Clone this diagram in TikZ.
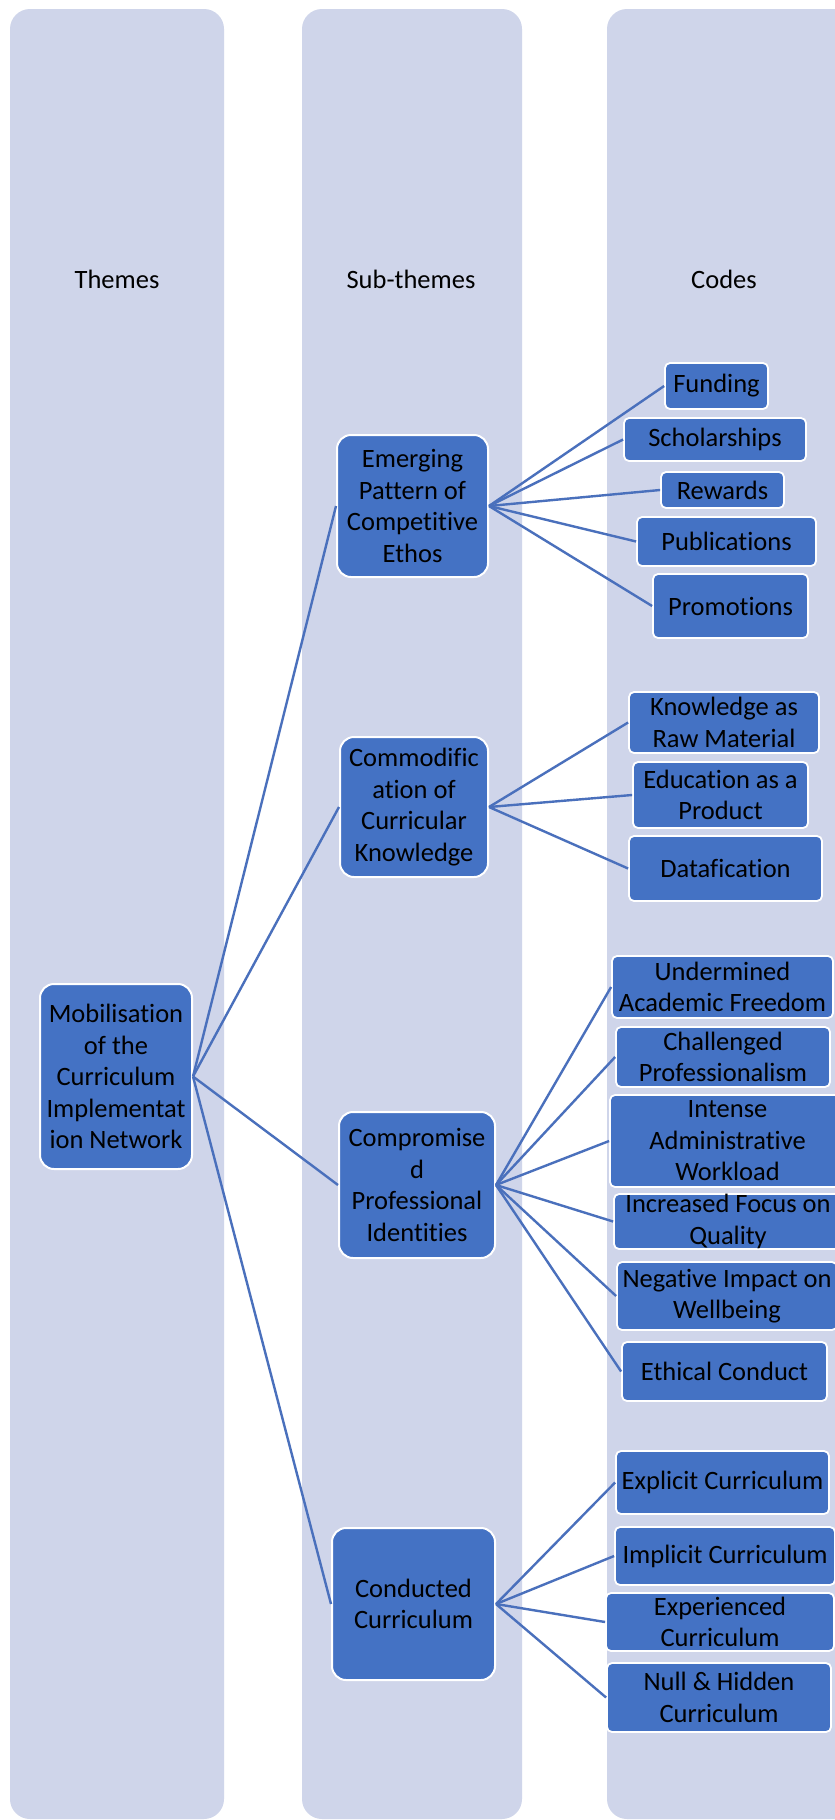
\documentclass[tikz,border=0pt]{standalone}
\usepackage{fontspec}
\setmainfont{Carlito}[Ligatures=NoCommon]
\definecolor{colbg}{HTML}{CFD5EA}
\definecolor{boxblue}{HTML}{4472C4}
\definecolor{linkblue}{HTML}{4A70BC}
\newcommand\boxfont{\fontsize{26.5}{31.5}\selectfont}
\tikzset{
  column/.style={fill=colbg, rounded corners=20pt},
  header/.style={font=\boxfont, text=black},
  txt/.style={align=center, font=\boxfont, text=black, inner sep=0pt},
  themebox/.style={draw=white, line width=2pt, fill=boxblue, rounded corners=14pt, inner sep=0pt},
  codebox/.style={draw=white, line width=1.8pt, fill=boxblue, rounded corners=5pt, inner sep=0pt},
  link/.style={draw=linkblue, line width=2.4pt},
}
\begin{document}
\begin{tikzpicture}[x=1pt, y=-1pt]
\useasboundingbox (0,0) rectangle (835,1820);
\fill[white] (0,0) rectangle (835,1820);

% three background columns
\fill[column] (10,9) rectangle (224,1819);
\fill[column] (302,9) rectangle (522,1819);
\fill[column] (607,9) rectangle (870,1819);

\node[header] (hthemes) at (117,279) {Themes};
\node[header] (hsub) at (411,279) {Sub-themes};
\node[header] (hcodes) at (724,279) {Codes};

% theme
\node[themebox, minimum width=152pt, minimum height=185pt,
  label={[txt]center:Mobilisation\\of the\\Curriculum\\Implementat\\ion Network}] (mob) at (116,1076.5) {};

% sub-themes
\node[themebox, minimum width=151pt, minimum height=142pt,
  label={[txt]center:Emerging\\Pattern of\\Competitive\\Ethos}] (emerg) at (412.5,506) {};
\node[themebox, minimum width=148pt, minimum height=140pt,
  label={[txt]center:Commodific\\ation of\\Curricular\\Knowledge}] (commod) at (414,807) {};
\node[themebox, minimum width=156pt, minimum height=146pt,
  label={[txt]center:Compromise\\d\\Professional\\Identities}] (comprom) at (417,1185) {};
\node[themebox, minimum width=163pt, minimum height=152pt,
  label={[txt]center:Conducted\\Curriculum}] (conduct) at (413.5,1604) {};

% codes: competitive ethos
\node[codebox, minimum width=103pt, minimum height=46pt, label={[txt]center:Funding}] (funding) at (716.5,386) {};
\node[codebox, minimum width=182pt, minimum height=43pt, label={[txt]center:Scholarships}] (schol) at (715,439.5) {};
\node[codebox, minimum width=123pt, minimum height=36pt, label={[txt]center:Rewards}] (rewards) at (722.5,490) {};
\node[codebox, minimum width=179pt, minimum height=49pt, label={[txt]center:Publications}] (publ) at (726.5,541.5) {};
\node[codebox, minimum width=155pt, minimum height=64pt, label={[txt]center:Promotions}] (promo) at (730.5,606) {};

% codes: commodification
\node[codebox, minimum width=190pt, minimum height=61pt, label={[txt]center:Knowledge as\\Raw Material}] (rawmat) at (724,722.5) {};
\node[codebox, minimum width=175pt, minimum height=66pt, label={[txt]center:Education as a\\Product}] (product) at (720.5,795) {};
\node[codebox, minimum width=193pt, minimum height=65pt, label={[txt]center:Datafication}] (datafic) at (725.5,868.5) {};

% codes: professional identities
\node[codebox, minimum width=221pt, minimum height=62pt, label={[txt]center:Undermined\\Academic Freedom}] (freedom) at (722.5,987) {};
\node[codebox, minimum width=214pt, minimum height=60pt, label={[txt]center:Challenged\\Professionalism}] (profess) at (723,1057) {};
\node[codebox, minimum width=235pt, minimum height=92pt, label={[txt]center:Intense\\Administrative\\Workload}] (workload) at (727.5,1141) {};
\node[codebox, minimum width=228pt, minimum height=55pt, label={[txt]center:Increased Focus on\\Quality}] (quality) at (728,1221.5) {};
\node[codebox, minimum width=220pt, minimum height=68pt, label={[txt]center:Negative Impact on\\Wellbeing}] (wellbeing) at (727,1296) {};
\node[codebox, minimum width=205pt, minimum height=59pt, label={[txt]center:Ethical Conduct}] (ethical) at (724.5,1371.5) {};

% codes: conducted curriculum
\node[codebox, minimum width=213pt, minimum height=63pt, label={[txt]center:Explicit Curriculum}] (explicit) at (722.5,1482.5) {};
\node[codebox, minimum width=220pt, minimum height=58pt, label={[txt]center:Implicit Curriculum}] (implicit) at (725,1556) {};
\node[codebox, minimum width=228pt, minimum height=58pt, label={[txt]center:Experienced\\Curriculum}] (experienced) at (720,1622) {};
\node[codebox, minimum width=224pt, minimum height=69pt, label={[txt]center:Null \& Hidden\\Curriculum}] (nullhidden) at (719,1697.5) {};

% connectors
\foreach \s in {emerg,commod,comprom,conduct}
  \draw[link] (mob.east) -- (\s.west);
\foreach \c in {funding,schol,rewards,publ,promo}
  \draw[link] (emerg.east) -- (\c.west);
\foreach \c in {rawmat,product,datafic}
  \draw[link] (commod.east) -- (\c.west);
\foreach \c in {freedom,profess,workload,quality,wellbeing,ethical}
  \draw[link] (comprom.east) -- (\c.west);
\foreach \c in {explicit,implicit,experienced,nullhidden}
  \draw[link] (conduct.east) -- (\c.west);
\end{tikzpicture}
\end{document}
